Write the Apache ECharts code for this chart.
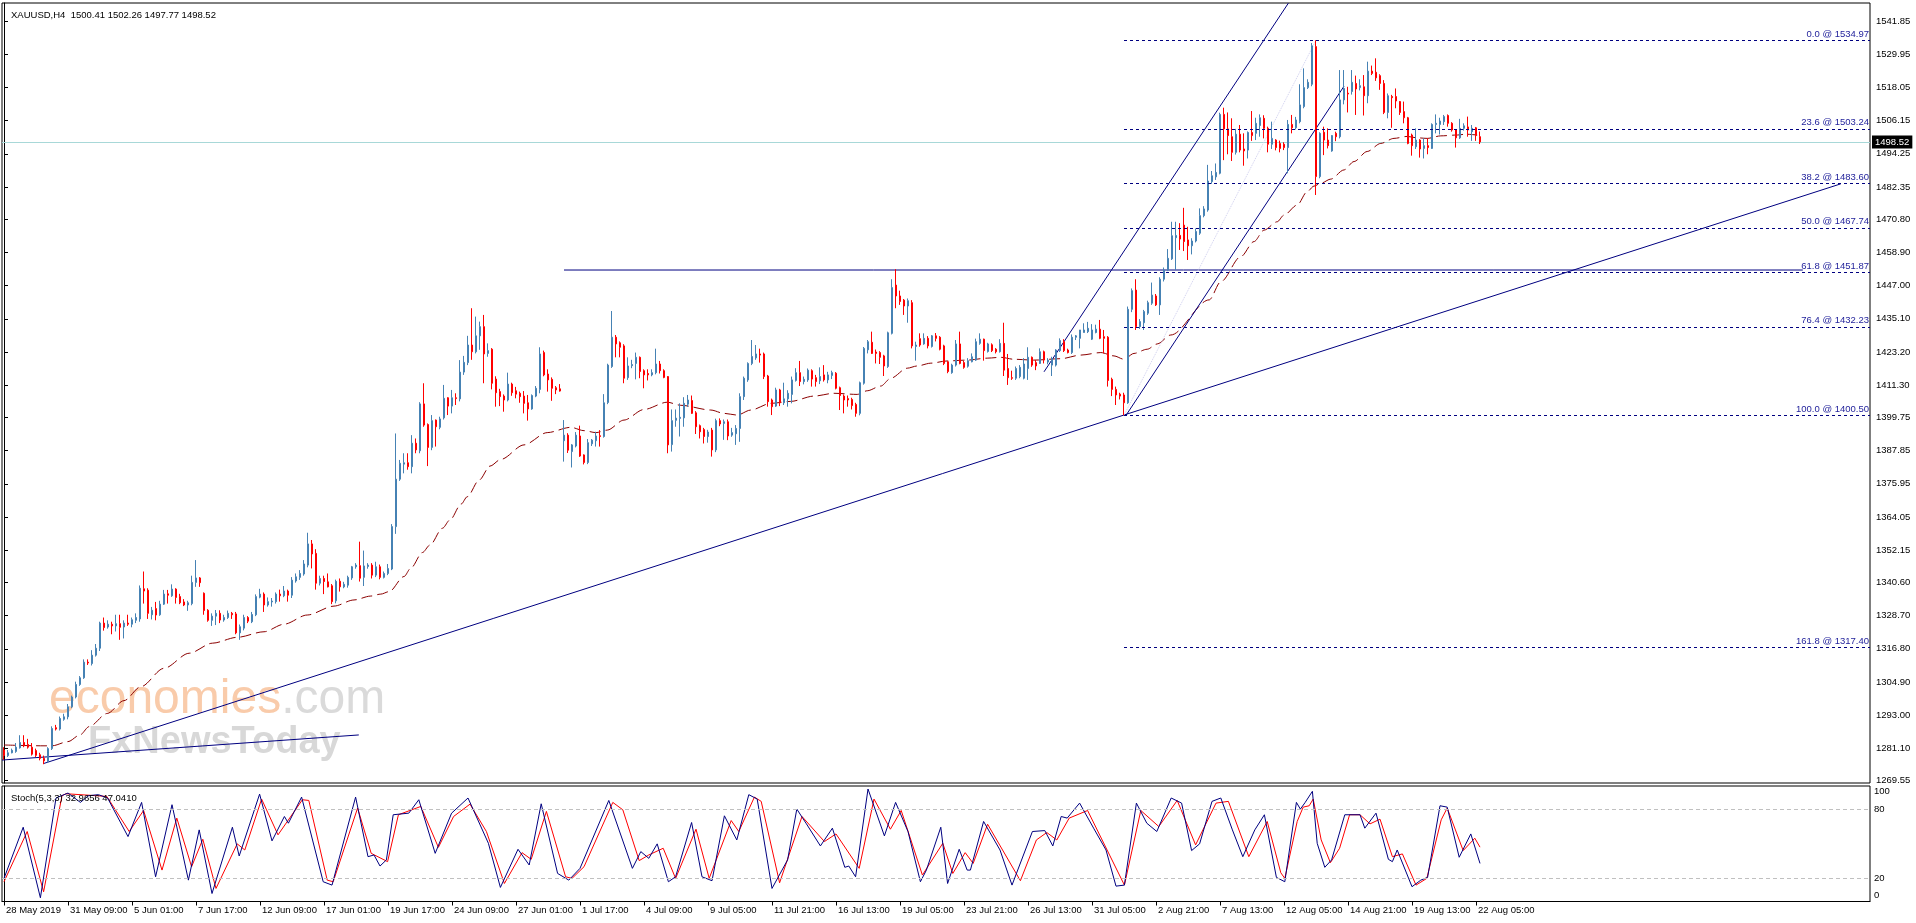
<!DOCTYPE html>
<html><head><meta charset="utf-8">
<script src="https://cdn.jsdelivr.net/npm/echarts@6/dist/echarts.min.js"></script>
<style>html,body{margin:0;padding:0;background:#fff;}#c{width:1916px;height:923px;}</style>
</head><body><div id="c"></div>
<script>
const symbolName = 'XAUUSD,H4';
const opens = [
1280.5,1278.5,1279.5,1280.0,1281.3,1283.2,1282.5,1281.5,1280.3,1278.8,
1277.5,1276.5,1281.0,1288.5,1288.0,1291.5,1292.4,1296.0,1299.5,1304.0,
1306.4,1312.0,1311.5,1314.5,1317.0,1326.0,1324.6,1325.6,1325.0,1325.8,
1324.6,1326.0,1325.6,1327.0,1327.5,1338.3,1337.8,1329.0,1331.2,1329.0,
1332.8,1336.5,1335.8,1338.2,1335.5,1333.6,1332.5,1333.0,1340.6,1342.2,
1336.7,1330.6,1327.0,1328.5,1329.5,1327.1,1328.0,1329.5,1329.3,1322.5,
1324.2,1328.0,1326.5,1329.0,1335.3,1336.4,1332.5,1333.6,1333.7,1336.4,
1335.8,1337.5,1336.0,1341.1,1342.4,1343.6,1346.8,1354.4,1351.0,1340.3,
1342.0,1340.8,1339.4,1334.0,1341.0,1339.0,1339.6,1342.2,1346.2,1346.6,
1342.4,1346.3,1346.8,1343.2,1346.2,1342.4,1343.8,1345.4,1360.6,1377.6,
1383.0,1383.5,1382.1,1390.5,1387.8,1404.6,1397.2,1389.0,1398.8,1396.2,
1399.6,1406.8,1403.8,1406.8,1406.4,1416.0,1419.4,1425.7,1423.3,1429.0,
1432.3,1422.7,1424.2,1413.5,1409.0,1407.4,1406.0,1411.7,1409.3,1408.4,
1407.4,1405.0,1402.8,1407.4,1409.8,1423.0,1415.3,1413.4,1410.4,1410.0,
1391.4,1393.4,1387.5,1389.5,1393.1,1386.3,1383.6,1390.3,1391.4,1393.2,
1392.9,1405.1,1418.0,1428.5,1426.5,1425.4,1414.0,1418.3,1419.1,1421.3,
1416.5,1415.5,1415.0,1415.8,1418.9,1416.5,1414.4,1390.0,1398.7,1399.4,
1399.6,1404.5,1405.8,1401.4,1396.8,1395.4,1392.9,1395.2,1388.1,1398.6,
1397.6,1398.2,1393.4,1393.9,1395.8,1407.2,1413.2,1419.1,1421.1,1422.5,
1422.5,1414.6,1406.0,1403.8,1409.6,1405.0,1406.4,1408.0,1413.0,1415.8,
1412.6,1413.2,1416.5,1414.0,1412.9,1415.0,1413.2,1414.8,1415.6,1410.4,
1407.4,1406.5,1406.2,1404.4,1401.2,1412.0,1424.0,1426.7,1423.2,1423.0,
1421.8,1418.0,1429.9,1447.2,1443.3,1441.8,1439.7,1440.9,1425.2,1428.0,
1426.1,1428.1,1425.2,1429.0,1428.5,1425.4,1419.7,1415.8,1418.5,1426.1,
1419.4,1418.1,1419.7,1420.3,1426.3,1427.8,1423.4,1425.8,1424.2,1423.3,
1426.3,1417.3,1414.0,1413.8,1414.4,1413.8,1417.3,1421.3,1419.4,1419.1,
1423.3,1419.6,1418.5,1418.5,1423.7,1426.9,1423.9,1423.0,1428.5,1428.1,
1430.2,1430.5,1427.8,1430.2,1431.4,1428.7,1428.5,1413.4,1409.8,1408.1,
1407.8,1405.0,1438.5,1445.4,1432.3,1433.7,1437.1,1440.7,1443.3,1440.1,
1449.3,1452.6,1456.6,1464.2,1465.0,1468.7,1463.4,1461.3,1463.0,1465.8,
1472.1,1474.1,1484.3,1486.0,1487.3,1508.4,1503.2,1500.4,1494.8,1501.3,
1496.0,1495.6,1501.9,1501.6,1504.4,1507.0,1503.4,1497.7,1499.2,1498.0,
1497.7,1496.5,1504.8,1503.6,1505.8,1511.2,1518.0,1519.2,1532.7,1486.1,
1502.0,1499.2,1495.3,1501.6,1500.4,1513.6,1516.0,1516.6,1519.5,1518.0,
1518.3,1515.1,1523.9,1523.5,1522.3,1519.5,1509.1,1514.8,1514.8,1513.0,
1509.4,1507.2,1501.0,1496.8,1499.2,1496.2,1497.2,1496.2,1504.8,1504.8,
1505.8,1508.0,1505.2,1502.8,1500.0,1503.4,1503.9,1502.2,1503.6,1500.41];
const highs = [
1281.5,1280.5,1281.0,1283.0,1285.8,1285.8,1284.5,1283.0,1281.0,1279.5,
1278.5,1281.5,1289.0,1289.5,1292.5,1293.5,1297.0,1300.0,1305.0,1307.0,
1313.0,1313.0,1316.3,1318.5,1326.5,1328.0,1327.0,1326.5,1329.0,1329.0,
1327.0,1329.0,1328.0,1329.5,1339.5,1344.5,1338.5,1331.8,1333.6,1334.0,
1337.9,1337.9,1339.9,1338.5,1336.5,1334.6,1334.0,1343.0,1348.6,1342.5,
1337.0,1331.0,1329.5,1330.7,1330.6,1329.0,1330.5,1330.0,1330.0,1325.5,
1329.0,1328.5,1330.0,1336.3,1338.3,1337.0,1335.2,1335.0,1337.0,1338.0,
1339.3,1338.0,1342.5,1343.8,1345.0,1348.6,1358.4,1355.8,1352.5,1343.0,
1343.0,1343.8,1340.0,1341.6,1342.0,1340.8,1343.0,1346.5,1347.5,1355.2,
1352.0,1347.5,1347.5,1348.0,1347.0,1344.5,1347.2,1361.5,1394.0,1384.5,
1386.9,1386.9,1393.4,1392.2,1405.2,1412.0,1397.6,1400.6,1399.0,1400.0,
1411.4,1407.0,1409.6,1408.4,1420.3,1421.8,1429.0,1438.9,1435.9,1434.1,
1436.5,1426.3,1424.6,1414.5,1410.0,1408.0,1415.8,1412.2,1410.7,1409.0,
1409.2,1407.8,1408.0,1411.0,1424.9,1423.7,1417.0,1414.1,1411.0,1411.7,
1398.8,1394.1,1390.2,1394.5,1396.8,1386.5,1392.0,1392.0,1394.6,1395.2,
1408.1,1419.0,1437.9,1429.3,1427.0,1426.0,1421.3,1420.4,1423.0,1421.6,
1417.0,1417.0,1417.0,1424.4,1420.0,1417.0,1414.6,1402.6,1402.6,1404.8,
1407.0,1407.8,1407.6,1402.0,1397.2,1396.0,1395.3,1396.0,1399.3,1399.4,
1399.0,1399.0,1396.0,1397.0,1408.4,1414.4,1419.5,1427.5,1425.7,1424.4,
1423.0,1415.0,1406.5,1410.4,1410.0,1412.2,1409.5,1414.4,1417.4,1420.0,
1414.4,1417.3,1417.0,1415.0,1417.7,1418.5,1416.1,1416.5,1416.0,1410.8,
1408.0,1407.6,1406.8,1405.0,1412.6,1425.0,1427.5,1430.5,1424.1,1423.5,
1422.2,1430.5,1449.3,1452.9,1445.2,1442.2,1442.4,1441.8,1426.9,1429.9,
1429.9,1428.9,1429.3,1430.0,1428.9,1425.8,1420.0,1419.0,1427.5,1430.5,
1420.0,1421.0,1422.7,1428.0,1429.9,1428.0,1426.5,1426.3,1424.6,1427.8,
1433.7,1422.5,1416.5,1418.0,1418.5,1421.0,1424.9,1421.6,1420.3,1424.5,
1423.7,1421.0,1421.5,1424.2,1428.1,1427.8,1424.4,1429.5,1429.3,1431.1,
1433.5,1434.0,1433.2,1433.0,1434.7,1431.1,1428.9,1414.0,1410.8,1408.6,
1408.6,1439.5,1446.0,1449.3,1435.0,1438.3,1441.6,1448.1,1444.0,1450.0,
1453.5,1460.1,1469.9,1469.9,1469.4,1474.9,1468.1,1464.0,1467.5,1474.7,
1475.5,1490.3,1488.1,1490.8,1509.0,1510.8,1509.1,1507.0,1503.2,1504.6,
1501.6,1502.3,1509.6,1507.2,1508.4,1508.1,1504.0,1505.8,1499.5,1499.0,
1498.4,1506.4,1508.2,1507.5,1519.2,1524.9,1521.0,1534.0,1534.97,1502.0,
1504.0,1503.4,1501.0,1502.2,1524.3,1524.3,1518.3,1524.3,1522.3,1521.0,
1522.5,1527.3,1525.9,1528.5,1522.8,1520.7,1515.9,1515.4,1517.7,1513.2,
1513.0,1507.5,1501.5,1503.4,1499.5,1499.8,1499.8,1505.2,1508.4,1507.2,
1508.2,1508.4,1505.6,1503.0,1506.8,1505.2,1507.6,1504.6,1503.9,1502.26];
const lows = [
1277.0,1278.0,1279.3,1279.5,1281.0,1281.5,1281.0,1278.5,1278.0,1276.8,
1275.4,1276.0,1280.5,1287.5,1287.5,1291.0,1291.5,1295.5,1299.0,1303.5,
1306.0,1311.0,1310.8,1314.0,1316.0,1323.3,1324.0,1322.0,1323.0,1320.0,
1320.5,1325.0,1324.5,1326.0,1326.5,1333.0,1327.5,1327.3,1327.0,1328.6,
1332.5,1333.0,1335.4,1333.0,1332.8,1332.1,1330.4,1332.4,1339.0,1339.0,
1329.0,1326.5,1325.0,1325.3,1326.0,1326.5,1327.5,1327.5,1322.0,1320.0,
1323.4,1326.0,1326.0,1328.5,1334.9,1330.0,1331.9,1331.9,1333.0,1333.7,
1335.3,1333.7,1335.0,1340.5,1341.5,1343.0,1346.0,1345.6,1338.0,1339.5,
1336.4,1338.8,1332.8,1333.1,1337.3,1338.5,1338.7,1341.5,1345.5,1340.9,
1339.3,1345.5,1342.0,1342.5,1341.7,1342.0,1343.2,1345.0,1358.0,1377.0,
1379.7,1381.0,1379.7,1386.9,1386.9,1396.4,1382.3,1388.0,1389.3,1395.5,
1399.0,1400.6,1401.2,1404.2,1405.5,1415.0,1418.5,1420.4,1422.7,1424.0,
1412.0,1421.5,1409.8,1403.6,1403.8,1401.8,1405.5,1407.5,1406.6,1405.0,
1401.2,1398.6,1402.5,1407.0,1408.4,1414.5,1409.0,1405.7,1408.1,1409.0,
1383.9,1387.0,1381.8,1389.0,1385.6,1382.9,1383.0,1389.5,1389.3,1389.3,
1392.5,1404.5,1417.5,1421.3,1421.3,1412.0,1413.2,1417.4,1413.4,1413.8,
1410.2,1413.0,1414.5,1415.2,1415.5,1413.8,1386.9,1387.5,1396.4,1392.9,
1396.4,1403.5,1401.0,1393.8,1392.2,1390.4,1390.7,1385.7,1387.3,1396.6,
1391.7,1391.6,1392.8,1389.9,1391.0,1406.0,1412.5,1418.5,1420.4,1419.4,
1413.5,1403.6,1400.6,1403.5,1403.8,1404.2,1403.6,1404.8,1412.6,1411.0,
1411.6,1412.5,1410.8,1410.8,1411.7,1412.6,1412.0,1413.5,1409.8,1402.4,
1401.2,1403.6,1402.6,1400.0,1400.5,1411.5,1422.7,1422.5,1419.1,1418.9,
1414.6,1417.5,1429.5,1438.9,1440.1,1436.5,1433.7,1424.5,1420.1,1425.1,
1425.8,1424.5,1424.8,1427.0,1423.8,1418.5,1415.6,1415.4,1418.0,1418.8,
1417.2,1417.6,1419.5,1420.0,1425.8,1420.1,1423.0,1423.2,1422.7,1423.0,
1414.6,1411.4,1413.2,1413.2,1413.8,1413.4,1413.2,1417.9,1416.7,1418.9,
1419.1,1418.8,1414.6,1418.0,1423.2,1423.2,1422.7,1422.5,1427.5,1424.5,
1430.2,1430.0,1427.5,1429.9,1427.8,1422.7,1410.8,1407.4,1404.2,1406.2,
1400.5,1404.6,1437.5,1431.1,1431.5,1431.1,1436.5,1440.1,1439.7,1436.5,
1448.5,1452.2,1456.2,1452.6,1459.8,1459.4,1456.2,1458.2,1462.5,1465.2,
1471.5,1473.5,1483.5,1484.9,1486.9,1492.0,1494.1,1491.7,1494.0,1494.8,
1490.0,1492.6,1498.9,1499.2,1500.4,1499.8,1494.8,1496.0,1495.5,1494.8,
1495.6,1487.3,1501.6,1503.0,1505.2,1510.6,1517.5,1518.5,1479.5,1485.5,
1493.8,1496.2,1495.0,1498.8,1499.8,1512.0,1509.1,1515.5,1508.2,1517.0,
1508.0,1512.4,1522.5,1520.4,1517.2,1508.5,1507.0,1503.6,1510.6,1508.2,
1505.2,1497.7,1493.6,1496.0,1492.9,1492.6,1494.1,1496.0,1501.6,1501.2,
1504.6,1504.0,1502.2,1496.5,1499.6,1502.6,1500.4,1498.9,1498.9,1497.77];
const closes = [
1278.5,1279.5,1280.4,1281.5,1283.2,1282.0,1281.5,1279.0,1278.6,1277.5,
1276.6,1281.0,1288.2,1288.0,1291.8,1292.4,1296.0,1299.5,1304.0,1306.4,
1312.0,1311.7,1314.5,1317.0,1326.0,1324.4,1325.6,1325.0,1325.8,1324.5,
1326.0,1325.6,1327.2,1328.0,1338.5,1337.5,1329.5,1330.6,1328.9,1332.8,
1336.4,1336.0,1338.2,1335.2,1333.3,1332.5,1333.3,1340.6,1342.2,1340.5,
1330.5,1327.0,1328.5,1329.5,1327.1,1328.0,1329.5,1329.0,1322.5,1324.7,
1328.0,1326.7,1329.1,1335.5,1336.4,1332.5,1333.7,1333.9,1336.4,1335.8,
1337.5,1336.0,1341.4,1342.6,1343.8,1347.2,1354.4,1350.8,1340.3,1342.0,
1340.9,1339.0,1333.7,1341.0,1339.0,1339.9,1342.4,1346.2,1346.8,1342.1,
1346.5,1346.8,1343.2,1346.2,1342.4,1343.8,1345.6,1360.6,1377.6,1383.3,
1383.5,1382.1,1390.5,1388.1,1404.6,1397.0,1389.0,1398.6,1396.4,1399.2,
1406.6,1403.8,1406.8,1406.5,1416.0,1419.5,1425.7,1423.3,1429.0,1432.3,
1422.5,1423.7,1412.0,1408.6,1407.2,1406.0,1411.7,1408.6,1408.1,1407.2,
1404.8,1402.8,1407.6,1410.2,1422.5,1415.0,1413.2,1410.2,1409.6,1409.2,
1393.4,1388.0,1389.9,1393.4,1385.9,1383.6,1390.7,1391.6,1393.1,1392.9,
1405.0,1418.5,1428.5,1426.1,1424.9,1413.8,1418.2,1418.7,1421.3,1416.2,
1415.0,1415.0,1415.8,1418.9,1416.5,1414.1,1389.9,1398.6,1399.5,1399.8,
1404.8,1406.0,1401.2,1396.4,1394.6,1392.9,1394.5,1388.1,1398.6,1397.4,
1398.2,1393.1,1394.3,1395.8,1407.2,1413.8,1419.1,1421.6,1422.5,1422.1,
1414.4,1405.4,1403.6,1409.6,1405.0,1406.4,1408.4,1413.2,1415.8,1412.6,
1413.4,1416.7,1413.5,1412.6,1414.4,1413.2,1415.0,1415.8,1410.2,1407.6,
1406.0,1406.0,1404.0,1401.2,1412.2,1424.5,1426.9,1422.7,1422.7,1421.3,
1418.2,1430.1,1446.3,1443.3,1441.3,1439.7,1441.6,1425.4,1425.7,1425.7,
1428.1,1425.4,1429.0,1428.1,1424.2,1419.1,1416.2,1418.5,1426.1,1419.1,
1417.7,1420.1,1421.5,1426.9,1427.8,1423.7,1426.1,1423.7,1423.3,1426.3,
1416.7,1414.0,1413.8,1417.3,1417.7,1418.9,1421.3,1418.5,1418.2,1423.3,
1420.3,1420.3,1420.9,1423.9,1427.3,1423.7,1423.0,1428.5,1429.0,1431.1,
1431.1,1431.7,1431.1,1431.4,1428.1,1428.1,1413.0,1409.8,1407.8,1407.4,
1405.0,1438.5,1445.2,1432.3,1434.1,1437.7,1440.9,1443.6,1440.1,1449.3,
1452.6,1456.8,1464.9,1465.0,1463.7,1462.8,1461.3,1463.0,1466.4,1472.1,
1474.5,1484.5,1486.4,1487.6,1508.4,1503.2,1500.8,1494.8,1501.3,1495.6,
1495.3,1501.9,1500.8,1505.2,1507.2,1503.4,1497.7,1499.8,1496.5,1496.2,
1496.5,1504.8,1503.6,1506.4,1511.8,1518.0,1519.9,1533.0,1486.1,1501.6,
1499.2,1497.2,1500.8,1500.4,1513.6,1517.7,1515.7,1519.9,1517.5,1518.7,
1515.1,1523.9,1523.1,1521.5,1519.5,1509.1,1515.1,1514.4,1513.2,1509.1,
1507.2,1498.0,1497.2,1499.2,1496.0,1497.2,1496.5,1504.8,1505.2,1506.0,
1507.6,1505.2,1502.8,1500.0,1503.4,1504.3,1502.8,1503.4,1500.8,1498.52];

// moving average: [bar, price]
const maPoints = [[0,1282.3],[10,1282.0],[12,1282.0],[16,1283.5],[19,1285.9],[21.3,1288.9],[25.8,1293.6],[30,1298.2],[34.2,1303.2],[40,1309.8],[46.3,1315.2],[52.1,1318.8],[58.3,1320.9],[65,1322.9],[70,1325.6],[75.8,1328.9],[82.5,1332.1],[87.5,1334.3],[91.7,1335.7],[94.2,1336.4],[96.3,1337.3],[100,1342.7],[101.7,1345.7],[104.6,1351.3],[106.5,1354.0],[109.6,1360.0],[111.5,1363.0],[114.3,1368.7],[115.8,1371.3],[118.8,1377.3],[121.5,1382.3],[124.2,1384.7],[130,1389.9],[135.8,1394.3],[141.7,1396.2],[145,1395.0],[148,1394.3],[150.8,1395.2],[155,1398.8],[160,1402.6],[165.8,1405.2],[169.2,1404.1],[176.7,1402.4],[180,1401.2],[183.3,1400.6],[186.7,1402.4],[191.7,1404.8],[196.7,1405.5],[202.5,1407.4],[207.5,1408.4],[213.3,1408.0],[215.8,1409.3],[219.2,1411.0],[221.7,1413.8],[225.8,1417.4],[228.3,1418.2],[231.7,1419.2],[235.8,1420.0],[240.8,1420.3],[245.8,1421.0],[249.2,1421.3],[252.5,1420.6],[257.5,1420.3],[264.2,1420.8],[269.2,1422.1],[274.2,1423.0],[277.5,1421.8],[280,1420.6],[282.5,1422.7],[285.8,1424.2],[288.3,1426.1],[291.7,1429.3],[301.3,1441.9],[304.2,1448.4],[309.2,1457.4],[312.5,1462.8],[315,1466.9],[318.3,1469.9],[320,1472.3],[323.3,1475.9],[325.8,1480.7],[327.5,1482.7],[329.2,1483.7],[331.7,1485.2],[335,1488.5],[337.5,1491.5],[340.8,1495.1],[344.2,1498.0],[347.5,1499.8],[350.8,1500.5],[353.3,1500.0],[355.8,1499.8],[359.2,1500.7],[363.3,1501.0],[365.4,1501.3],[368.3,1501.0]];

// stochastic %K and %D: [bar, value]
const stochK = [[0,20.0],[4.8,64.3],[9.1,3.2],[13.0,89.6],[16.0,93.9],[19.1,85.8],[21.1,91.6],[23.6,92.5],[25.9,89.6],[31.0,56.2],[34.4,85.8],[37.9,21.4],[42.0,83.8],[46.1,18.5],[48.8,62.0],[52.0,6.9],[57.1,64.3],[58.8,39.4],[63.9,93.0],[67.0,52.5],[70.1,73.6],[71.1,67.8],[74.4,90.4],[79.8,17.1],[82.0,14.2],[87.9,90.4],[91.0,38.8],[92.5,40.3],[94.0,30.7],[95.6,36.0],[97.3,75.1],[101.2,76.5],[103.7,88.1],[107.8,41.7],[111.9,76.5],[116.0,89.6],[121.1,50.4],[124.1,12.2],[128.5,45.2],[131.3,31.6],[134.3,84.6],[138.4,24.3],[141.2,18.5],[144.0,28.7],[151.2,87.5],[157.1,28.7],[159.2,43.2],[161.2,37.4],[163.3,49.9],[166.1,17.1],[167.9,21.4],[171.9,68.4],[174.5,21.4],[177.0,18.0],[180.1,74.2],[183.2,53.3],[186.2,92.5],[188.3,88.7],[192.0,11.3],[195.9,36.0],[198.2,80.0],[200.5,67.8],[204.1,48.1],[207.1,63.5],[210.2,29.6],[211.2,30.7],[212.9,21.4],[216.0,97.4],[220.1,56.8],[222.9,85.8],[226.0,60.6],[229.1,17.1],[230.6,27.2],[234.2,64.3],[235.9,15.6],[238.8,45.2],[240.8,27.2],[241.6,27.2],[244.9,69.3],[249.0,44.6],[252.0,14.2],[257.1,60.6],[260.2,61.4],[262.2,48.1],[264.3,73.6],[265.8,72.2],[268.9,85.2],[272.4,63.5],[275.5,44.6],[278.0,13.3],[280.1,14.2],[283.1,85.2],[285.7,67.8],[288.2,60.6],[291.8,89.6],[294.4,85.2],[296.9,44.1],[298.9,49.9],[302.0,86.7],[304.2,89.6],[307.1,62.0],[309.7,38.8],[312.7,62.0],[315.1,75.1],[318.1,20.9],[320.2,17.1],[323.1,85.8],[324.1,80.0],[325.3,85.8],[327.1,95.4],[328.3,50.4],[330.2,29.6],[331.9,36.0],[335.2,75.1],[339.0,75.1],[340.2,63.5],[343.0,76.5],[346.1,36.5],[347.1,34.5],[348.3,44.6],[352.0,12.8],[354.2,18.5],[355.9,20.9],[359.0,82.9],[360.8,81.7],[363.8,38.3],[366.7,58.5],[369,32.97]];
const stochD = [[0,17.1],[5.8,60.6],[9.9,8.4],[14.5,91.6],[15.5,93.3],[25.7,91.0],[31.3,60.6],[34.9,78.8],[39.5,27.2],[43.2,72.2],[46.9,30.1],[49.7,53.9],[53.0,11.3],[58.3,49.9],[60.2,44.6],[64.4,88.7],[68.5,57.7],[74.6,88.1],[76.2,87.5],[80.8,18.5],[82.3,17.1],[88.4,80.9],[91.8,41.7],[95.9,34.5],[98.6,75.1],[104.2,82.3],[108.6,46.9],[112.4,73.6],[116.5,84.3],[120.6,60.6],[125.1,15.6],[129.5,42.3],[131.8,36.5],[135.6,78.0],[140.4,21.4],[142.0,20.0],[145.0,30.1],[152.2,85.8],[154.7,79.4],[158.8,35.4],[161.2,40.3],[164.8,46.1],[167.9,20.0],[173.0,62.6],[176.3,20.0],[181.8,70.1],[183.7,60.6],[187.6,90.4],[189.3,86.7],[193.9,16.2],[199.5,73.6],[205.1,51.9],[208.0,58.5],[213.8,28.7],[217.5,88.7],[221.6,62.6],[224.3,78.8],[229.6,22.9],[234.7,50.4],[237.2,24.3],[240.3,42.3],[242.3,33.0],[245.9,66.9],[254.1,18.0],[258.1,53.3],[260.7,59.7],[263.2,53.3],[266.3,72.2],[270.9,78.8],[280.1,14.2],[284.2,78.8],[288.7,64.9],[293.3,87.5],[297.9,49.0],[303.0,85.2],[306.1,86.7],[311.2,38.8],[315.8,69.3],[319.2,24.9],[320.2,20.0],[323.3,69.3],[324.8,81.7],[326.3,82.9],[327.3,88.7],[329.3,53.3],[331.6,33.6],[333.9,46.1],[336.4,75.1],[339.0,75.1],[341.5,67.2],[344.0,71.3],[347.1,38.8],[349.6,41.2],[353.0,14.2],[355.7,20.0],[359.3,70.7],[360.8,80.9],[364.8,44.1],[367.7,54.8],[369,47.04]];
const stochLastK = '32.9656', stochLastD = '47.0410';

const priceTicks = [1541.85,1529.95,1518.05,1506.15,1494.25,1482.35,1470.80,1458.90,1447.00,1435.10,1423.20,1411.30,1399.75,1387.85,1375.95,1364.05,1352.15,1340.60,1328.70,1316.80,1304.90,1293.00,1281.10,1269.55];
const timeLabels = ['28 May 2019','31 May 09:00','5 Jun 01:00','7 Jun 17:00','12 Jun 09:00','17 Jun 01:00','19 Jun 17:00','24 Jun 09:00','27 Jun 01:00','1 Jul 17:00','4 Jul 09:00','9 Jul 05:00','11 Jul 21:00','16 Jul 13:00','19 Jul 05:00','23 Jul 21:00','26 Jul 13:00','31 Jul 05:00','2 Aug 21:00','7 Aug 13:00','12 Aug 05:00','14 Aug 21:00','19 Aug 13:00','22 Aug 05:00'];
const barsPerLabel = 16;

const fibRatios = ['0.0','23.6','38.2','50.0','61.8','76.4','100.0','161.8'];
const fibPrices = [1534.97,1503.24,1483.60,1467.74,1451.87,1432.23,1400.50,1317.40];
const fibAnchors = [[280,1400.50],[328,1534.97]];

// drawn objects in data space [bar, price]
const longTrend = [[10,1275.7],[459.2,1483.5]];
const shortTrend = [[-0.5,1276.9],[88.7,1285.9]];
const channelUpper = [[260,1416.1],[321.1,1548.3]];
const channelLower = [[280.5,1400.5],[335,1518.5]];
const resistance = [[140,1452.6],[449.7,1452.6]];

const slots = 467;
const FONT = 'Liberation Sans, Arial, sans-serif';
const FS = 9.5;

const cats = Array.from({length: slots}, (_, i) => String(i));
const candleRows = opens.map((o, i) => [o, closes[i], lows[i], highs[i]]);
const lastClose = closes[closes.length - 1];
const header = symbolName + '  ' + [opens, highs, lows, closes].map(a => a[a.length - 1].toFixed(2)).join(' ');
const tickBars = timeLabels.map((_, k) => k * barsPerLabel);
const xMin = -0.5, xMax = slots - 0.5;

function drawLine(data) {
  return {type:'line', xAxisIndex:1, yAxisIndex:0, data, symbol:'none', silent:true, animation:false,
          lineStyle:{color:'#000080', width:1}, z:3};
}

const chart = echarts.init(document.getElementById('c'), null, {renderer:'canvas'});
chart.setOption({
  animation:false,
  backgroundColor:'#ffffff',
  textStyle:{fontFamily:FONT, fontSize:FS},
  title:[
    {text:header, left:6, top:5, textStyle:{fontSize:FS, fontWeight:'normal', color:'#000', fontFamily:FONT}},
    {text:'Stoch(5,3,3) ' + stochLastK + ' ' + stochLastD, left:6, top:788, textStyle:{fontSize:FS, fontWeight:'normal', color:'#000', fontFamily:FONT}}
  ],
  graphic:[
    {type:'text', x:49, y:700, silent:true, z:0,
     style:{text:'{a|economies}{b|.com}', verticalAlign:'middle',
            rich:{a:{fill:'#F9CBAA', fontSize:48, fontFamily:FONT}, b:{fill:'#DADADA', fontSize:48, fontFamily:FONT}}}},
    {type:'text', x:88, y:743, silent:true, z:0,
     style:{text:'FxNewsToday', fill:'#D8D8D8', font:'bold 38px ' + FONT, verticalAlign:'middle'}}
  ],
  grid:[
    {left:2, top:3, width:1868, height:780, show:true, borderColor:'#000', borderWidth:1, backgroundColor:'transparent'},
    {left:2, top:786, width:1868, height:115.5, show:true, borderColor:'#000', borderWidth:1, backgroundColor:'transparent'}
  ],
  xAxis:[
    {type:'category', gridIndex:0, data:cats, boundaryGap:true, show:false},
    {type:'value', gridIndex:0, min:xMin, max:xMax, show:false},
    {type:'value', gridIndex:1, min:xMin, max:xMax, position:'bottom',
     axisLine:{show:true, lineStyle:{color:'#000', width:1}},
     axisTick:{show:true, customValues:tickBars, length:4, lineStyle:{color:'#000'}},
     axisLabel:{show:true, customValues:tickBars, formatter:(v) => timeLabels[Math.round(v / barsPerLabel)],
                align:'left', padding:[0,0,0,2], margin:4, color:'#000', fontSize:FS, fontFamily:FONT},
     splitLine:{show:false}}
  ],
  yAxis:[
    {type:'value', gridIndex:0, position:'right', min:1268.67, max:1548.34, scale:true,
     axisLine:{show:true, lineStyle:{color:'#000'}},
     axisTick:{show:true, customValues:priceTicks, length:4, lineStyle:{color:'#000'}},
     axisLabel:{show:true, customValues:priceTicks, formatter:(v) => v.toFixed(2), margin:6, color:'#000', fontSize:FS, fontFamily:FONT},
     splitLine:{show:false}},
    {type:'value', gridIndex:1, position:'right', min:0, max:100,
     axisLine:{show:true, lineStyle:{color:'#000'}},
     axisTick:{show:false},
     axisLabel:{show:true, customValues:[5,20,80,95], formatter:(v) => v === 95 ? '100' : (v === 5 ? '0' : String(v)),
                margin:4, color:'#000', fontSize:FS, fontFamily:FONT},
     splitLine:{show:false}}
  ],
  series:[
    {type:'candlestick', name:'XAUUSD', xAxisIndex:0, yAxisIndex:0, data:candleRows, barWidth:2, z:4,
     itemStyle:{color:'#4682B4', color0:'#FF0000', borderColor:'#4682B4', borderColor0:'#FF0000', borderColorDoji:'#4682B4', borderWidth:1},
     markLine:{silent:true, symbol:['none','none'], animation:false, z:2,
       lineStyle:{color:'#A8D8D8', type:'solid', width:1},
       label:{show:true, position:'end', formatter:lastClose.toFixed(2), backgroundColor:'#000', color:'#fff',
              padding:[2,3,1,3], fontSize:FS, fontFamily:FONT, distance:2},
       data:[{yAxis:lastClose}]}},
    {type:'line', name:'MA', xAxisIndex:1, yAxisIndex:0, data:maPoints, symbol:'none', smooth:0.3, smoothMonotone:'x',
     silent:true, z:3, lineStyle:{color:'#8B0000', width:1, type:[11,5]}},
    drawLine(longTrend),
    drawLine(shortTrend),
    drawLine(channelUpper),
    drawLine(channelLower),
    drawLine(resistance),
    {type:'line', name:'Fibo', xAxisIndex:1, yAxisIndex:0, data:fibAnchors, symbol:'none', silent:true, z:3,
     lineStyle:{color:'#CFCFEF', width:1, type:'dotted'},
     markLine:{silent:true, symbol:['none','none'], animation:false,
       lineStyle:{color:'#000080', width:1, type:[3,3]},
       label:{show:true, position:'insideEndTop', color:'#24249C', fontSize:FS, fontFamily:FONT, distance:1},
       data:fibPrices.map((p, k) => [
         {coord:[fibAnchors[0][0], p], label:{formatter:fibRatios[k] + ' @ ' + p.toFixed(2)}},
         {coord:[xMax, p]}])}},
    {type:'line', name:'%K', xAxisIndex:2, yAxisIndex:1, data:stochK, symbol:'none', silent:true, z:4,
     lineStyle:{color:'#000080', width:1},
     markLine:{silent:true, symbol:['none','none'], animation:false,
       lineStyle:{color:'#C0C0C0', width:1, type:[4,3]}, label:{show:false},
       data:[{yAxis:20},{yAxis:80}]}},
    {type:'line', name:'%D', xAxisIndex:2, yAxisIndex:1, data:stochD, symbol:'none', silent:true, z:3,
     lineStyle:{color:'#FF0000', width:1}}
  ]
});
</script>
</body></html>
